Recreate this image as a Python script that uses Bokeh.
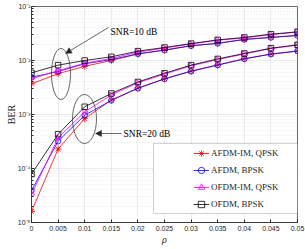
import numpy as np
from bokeh.plotting import figure
from bokeh.models import (FixedTicker, CustomJSTickFormatter, Legend, LegendItem,
                          BoxAnnotation, Arrow, NormalHead, Label)
from bokeh.embed import file_html
from bokeh.resources import INLINE

# ---- data ----
rho = [0, 0.005, 0.01, 0.015, 0.02, 0.025, 0.03, 0.035, 0.04, 0.045, 0.05]

# SNR = 10 dB
afdm_im_qpsk_10 = [3.7e-3, 5.7e-3, 7.8e-3, 1.0e-2, 1.32e-2, 1.57e-2, 1.88e-2, 2.09e-2, 2.46e-2, 2.68e-2, 2.92e-2]
afdm_bpsk_10    = [4.9e-3, 6.25e-3, 8.7e-3, 1.04e-2, 1.33e-2, 1.55e-2, 1.87e-2, 2.07e-2, 2.45e-2, 2.67e-2, 2.9e-2]
ofdm_im_qpsk_10 = [4.6e-3, 6.5e-3, 8.9e-3, 1.09e-2, 1.43e-2, 1.7e-2, 2.02e-2, 2.37e-2, 2.62e-2, 3.02e-2, 3.35e-2]
ofdm_bpsk_10    = [5.9e-3, 8.2e-3, 1.0e-2, 1.17e-2, 1.49e-2, 1.74e-2, 2.06e-2, 2.41e-2, 2.67e-2, 3.07e-2, 3.4e-2]

# SNR = 20 dB
afdm_im_qpsk_20 = [1.6e-5, 2.3e-4, 8.4e-4, 1.85e-3, 3.1e-3, 4.6e-3, 6.4e-3, 8.3e-3, 1.08e-2, 1.32e-2, 1.5e-2]
afdm_bpsk_20    = [3.9e-5, 3.2e-4, 9.7e-4, 1.82e-3, 3.05e-3, 4.55e-3, 6.3e-3, 8.2e-3, 1.07e-2, 1.31e-2, 1.49e-2]
ofdm_im_qpsk_20 = [3.3e-5, 3.7e-4, 1.12e-3, 2.3e-3, 3.85e-3, 5.6e-3, 8.0e-3, 1.04e-2, 1.32e-2, 1.66e-2, 1.92e-2]
ofdm_bpsk_20    = [7.9e-5, 4.3e-4, 1.39e-3, 2.45e-3, 4.0e-3, 5.8e-3, 8.2e-3, 1.07e-2, 1.35e-2, 1.69e-2, 1.95e-2]

x_ticks = [0, 0.005, 0.01, 0.015, 0.02, 0.025, 0.03, 0.035, 0.04, 0.045, 0.05]
y_ticks = [1e-5, 1e-4, 1e-3, 1e-2, 1e-1]
labels = ["AFDM-IM, QPSK", "AFDM, BPSK", "OFDM-IM, QPSK", "OFDM, BPSK"]

AX = "#262626"
SERIF = "Liberation Serif"
SANS = "Liberation Sans"


def fx(px):
    # reference-pixel -> data x (annotation placement only)
    return (px - 31) / 266 * 0.05


def fy(py):
    return 10 ** (-1 - (py - 6) / 54)


p = figure(width=305, height=249, y_axis_type="log", x_range=(0, 0.05), y_range=(1e-5, 1e-1),
           output_backend="svg", toolbar_location=None,
           min_border_left=31, min_border_right=8, min_border_top=6, min_border_bottom=27)
p.outline_line_color = AX
p.outline_line_width = 0.7
p.background_fill_color = "white"

minor = [m * d for d in y_ticks[:-1] for m in range(2, 10)]
p.xaxis.ticker = FixedTicker(ticks=x_ticks)
p.yaxis.ticker = FixedTicker(ticks=y_ticks, minor_ticks=minor)
p.xaxis.formatter = CustomJSTickFormatter(code="""
    if (tick === 0) return '0';
    return String(parseFloat(tick.toFixed(3)));
""")
p.yaxis.formatter = CustomJSTickFormatter(code="""
    const e = Math.round(Math.log10(tick));
    const m = {'-':'\u207b','0':'\u2070','1':'\u00b9','2':'\u00b2','3':'\u00b3','4':'\u2074','5':'\u2075','6':'\u2076','7':'\u2077','8':'\u2078','9':'\u2079'};
    return '10' + String(e).split('').map(c => m[c]).join('');
""")
for ax in (p.xaxis, p.yaxis):
    ax.axis_line_color = AX
    ax.axis_line_width = 0.7
    ax.major_tick_line_color = AX
    ax.minor_tick_line_color = AX
    ax.major_tick_in = 3
    ax.major_tick_out = 0
    ax.minor_tick_in = 2
    ax.minor_tick_out = 0
    ax.major_label_text_font = SANS
    ax.major_label_text_font_size = "7px"
    ax.major_label_text_color = AX
    ax.major_label_standoff = 3
    ax.axis_label_text_color = AX
    ax.axis_label_text_font = SERIF
    ax.axis_label_text_font_size = "10px"
    ax.axis_label_standoff = 0
p.yaxis.major_label_standoff = 1
p.yaxis.axis_label_standoff = -2
p.xaxis.axis_label = "ρ"
p.xaxis.axis_label_text_font_style = "italic"
p.yaxis.axis_label = "BER"
p.yaxis.axis_label_text_font_style = "normal"

p.xgrid.grid_line_color = "#e2e2e2"
p.xgrid.grid_line_width = 0.7
p.ygrid.grid_line_color = "#e2e2e2"
p.ygrid.grid_line_width = 0.7
p.ygrid.minor_grid_line_color = "#d6d6d6"
p.ygrid.minor_grid_line_dash = "1 2"
p.ygrid.minor_grid_line_width = 0.6

# legend box (drawn first, below curves)
box = BoxAnnotation(left=fx(153), right=0.05, top=fy(143), bottom=fy(213),
                    fill_color="white", fill_alpha=1, line_color=AX, line_width=0.7)
p.add_layout(box)

styles = [
    ("red", "asterisk", 7, 0),
    ("blue", "circle", 5.5, 0),
    ("magenta", "triangle", 6, -np.pi / 2),
    ("black", "square", 5.5, 0),
]
groups = [
    [afdm_im_qpsk_10, afdm_bpsk_10, ofdm_im_qpsk_10, ofdm_bpsk_10],
    [afdm_im_qpsk_20, afdm_bpsk_20, ofdm_im_qpsk_20, ofdm_bpsk_20],
]
items = {i: [] for i in range(4)}
for grp in groups:
    for i, ys in enumerate(grp):
        col, mk, sz, ang = styles[i]
        r1 = p.line(rho, ys, line_color=col, line_width=0.8)
        r2 = p.scatter(rho, ys, marker=mk, size=sz, angle=ang, line_color=col,
                       fill_alpha=0, line_width=0.8)
        items[i] += [r1, r2]

legend = Legend(items=[LegendItem(label=labels[i], renderers=items[i][:2]) for i in range(4)],
                location=(162, 10), padding=0, margin=0, spacing=1,
                glyph_width=16, glyph_height=16, label_height=16, label_standoff=2,
                border_line_alpha=0, background_fill_alpha=0,
                label_text_font=SERIF, label_text_font_size="9px", label_text_color=AX)
p.add_layout(legend)

# annotations: ellipses, arrows, texts
p.ellipse(x=[fx(60.5), fx(84)], y=[fy(73.5), fy(118.5)], width=[19, 24], height=[51, 49],
          width_units="screen", height_units="screen", fill_alpha=0, line_color=AX, line_width=0.7)
p.add_layout(Arrow(end=NormalHead(size=6, fill_color=AX, line_color=AX, line_width=0.5),
                   x_start=fx(108), y_start=fy(27), x_end=fx(65), y_end=fy(53),
                   line_color=AX, line_width=0.7))
p.add_layout(Arrow(end=NormalHead(size=6, fill_color=AX, line_color=AX, line_width=0.5),
                   x_start=fx(121), y_start=fy(133), x_end=fx(95), y_end=fy(133),
                   line_color=AX, line_width=0.7))
p.add_layout(Label(x=fx(110), y=fy(31), text="SNR=10 dB", text_font=SERIF,
                   text_font_size="9.5px", text_baseline="middle", text_color="black"))
p.add_layout(Label(x=fx(123), y=fy(133), text="SNR=20 dB", text_font=SERIF,
                   text_font_size="9.5px", text_baseline="middle", text_color="black"))

open("out.html", "w").write(file_html(p, INLINE))
